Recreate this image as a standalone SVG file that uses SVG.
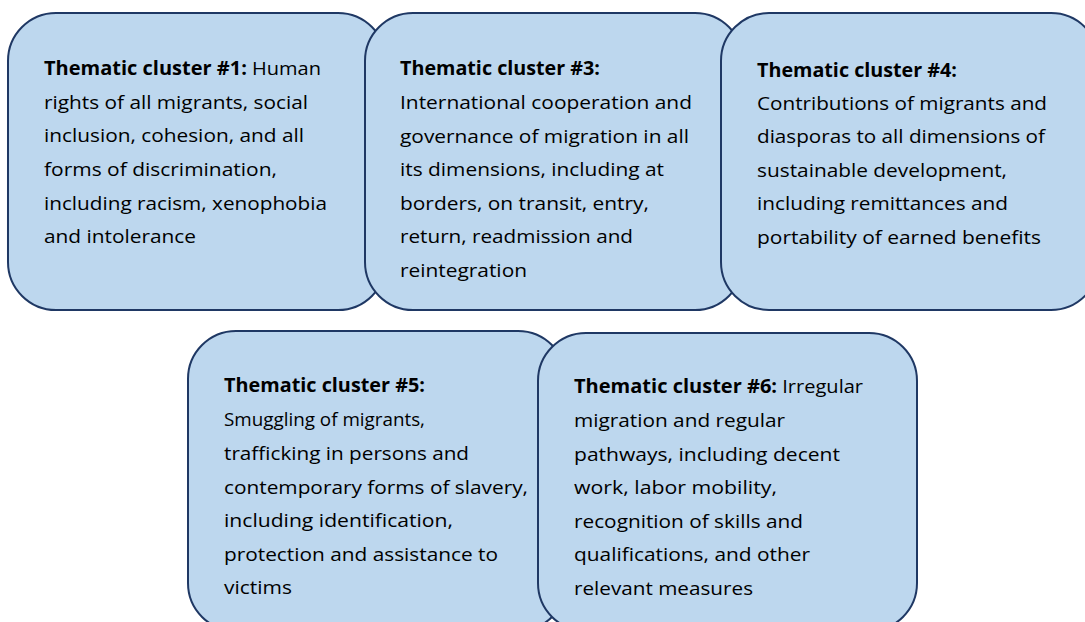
<svg xmlns="http://www.w3.org/2000/svg" width="1085" height="622" viewBox="0 0 1085 622">
  <style>
    .box { fill: #BDD7EE; stroke: #1F3864; stroke-width: 2; }
    .txt { font-family: "Open Sans", "Liberation Sans", sans-serif; font-size: 19px; fill: #000; }
    .hd { font-weight: bold; }
  </style>
  <rect width="1085" height="622" fill="#FFFFFF"/>

  <!-- top row -->
  <g id="cluster1">
    <rect class="box" x="8" y="13" width="378" height="297" rx="48" ry="48"/>
    <text class="txt" x="44" y="75" textLength="277" lengthAdjust="spacingAndGlyphs"><tspan class="hd">Thematic cluster #1:</tspan> Human</text>
    <text class="txt" x="44" y="109" textLength="264" lengthAdjust="spacingAndGlyphs">rights of all migrants, social</text>
    <text class="txt" x="44" y="142" textLength="260" lengthAdjust="spacingAndGlyphs">inclusion, cohesion, and all</text>
    <text class="txt" x="44" y="176" textLength="233" lengthAdjust="spacingAndGlyphs">forms of discrimination,</text>
    <text class="txt" x="44" y="210" textLength="283" lengthAdjust="spacingAndGlyphs">including racism, xenophobia</text>
    <text class="txt" x="44" y="243" textLength="152" lengthAdjust="spacingAndGlyphs">and intolerance</text>
  </g>

  <g id="cluster3">
    <rect class="box" x="365" y="13" width="378" height="297" rx="48" ry="48"/>
    <text class="txt hd" x="400" y="75" textLength="200" lengthAdjust="spacingAndGlyphs">Thematic cluster #3:</text>
    <text class="txt" x="400" y="109" textLength="292" lengthAdjust="spacingAndGlyphs">International cooperation and</text>
    <text class="txt" x="400" y="143" textLength="289" lengthAdjust="spacingAndGlyphs">governance of migration in all</text>
    <text class="txt" x="400" y="176" textLength="264" lengthAdjust="spacingAndGlyphs">its dimensions, including at</text>
    <text class="txt" x="400" y="210" textLength="249" lengthAdjust="spacingAndGlyphs">borders, on transit, entry,</text>
    <text class="txt" x="400" y="243" textLength="233" lengthAdjust="spacingAndGlyphs">return, readmission and</text>
    <text class="txt" x="400" y="277" textLength="127" lengthAdjust="spacingAndGlyphs">reintegration</text>
  </g>

  <g id="cluster4">
    <rect class="box" x="721" y="13" width="378" height="297" rx="48" ry="48"/>
    <text class="txt hd" x="757" y="77" textLength="200" lengthAdjust="spacingAndGlyphs">Thematic cluster #4:</text>
    <text class="txt" x="757" y="110" textLength="290" lengthAdjust="spacingAndGlyphs">Contributions of migrants and</text>
    <text class="txt" x="757" y="143" textLength="288" lengthAdjust="spacingAndGlyphs">diasporas to all dimensions of</text>
    <text class="txt" x="757" y="177" textLength="250" lengthAdjust="spacingAndGlyphs">sustainable development,</text>
    <text class="txt" x="757" y="210" textLength="251" lengthAdjust="spacingAndGlyphs">including remittances and</text>
    <text class="txt" x="757" y="244" textLength="284" lengthAdjust="spacingAndGlyphs">portability of earned benefits</text>
  </g>

  <!-- bottom row -->
  <g id="cluster5">
    <rect class="box" x="188" y="331" width="378" height="300" rx="48" ry="48"/>
    <text class="txt hd" x="224" y="392" textLength="201" lengthAdjust="spacingAndGlyphs">Thematic cluster #5:</text>
    <text class="txt" x="224" y="426" textLength="201" lengthAdjust="spacingAndGlyphs">Smuggling of migrants,</text>
    <text class="txt" x="224" y="460" textLength="245" lengthAdjust="spacingAndGlyphs">trafficking in persons and</text>
    <text class="txt" x="224" y="494" textLength="304" lengthAdjust="spacingAndGlyphs">contemporary forms of slavery,</text>
    <text class="txt" x="224" y="527" textLength="229" lengthAdjust="spacingAndGlyphs">including identification,</text>
    <text class="txt" x="224" y="561" textLength="274" lengthAdjust="spacingAndGlyphs">protection and assistance to</text>
    <text class="txt" x="224" y="594" textLength="68" lengthAdjust="spacingAndGlyphs">victims</text>
  </g>

  <g id="cluster6">
    <rect class="box" x="538" y="333" width="379" height="298" rx="48" ry="48"/>
    <text class="txt" x="574" y="393" textLength="289" lengthAdjust="spacingAndGlyphs"><tspan class="hd">Thematic cluster #6:</tspan> Irregular</text>
    <text class="txt" x="574" y="427" textLength="211" lengthAdjust="spacingAndGlyphs">migration and regular</text>
    <text class="txt" x="574" y="461" textLength="266" lengthAdjust="spacingAndGlyphs">pathways, including decent</text>
    <text class="txt" x="574" y="494" textLength="203" lengthAdjust="spacingAndGlyphs">work, labor mobility,</text>
    <text class="txt" x="574" y="528" textLength="229" lengthAdjust="spacingAndGlyphs">recognition of skills and</text>
    <text class="txt" x="574" y="561" textLength="236" lengthAdjust="spacingAndGlyphs">qualifications, and other</text>
    <text class="txt" x="574" y="595" textLength="179" lengthAdjust="spacingAndGlyphs">relevant measures</text>
  </g>

  <!-- no connectors in this figure -->
  <g id="connectors"/>
</svg>
